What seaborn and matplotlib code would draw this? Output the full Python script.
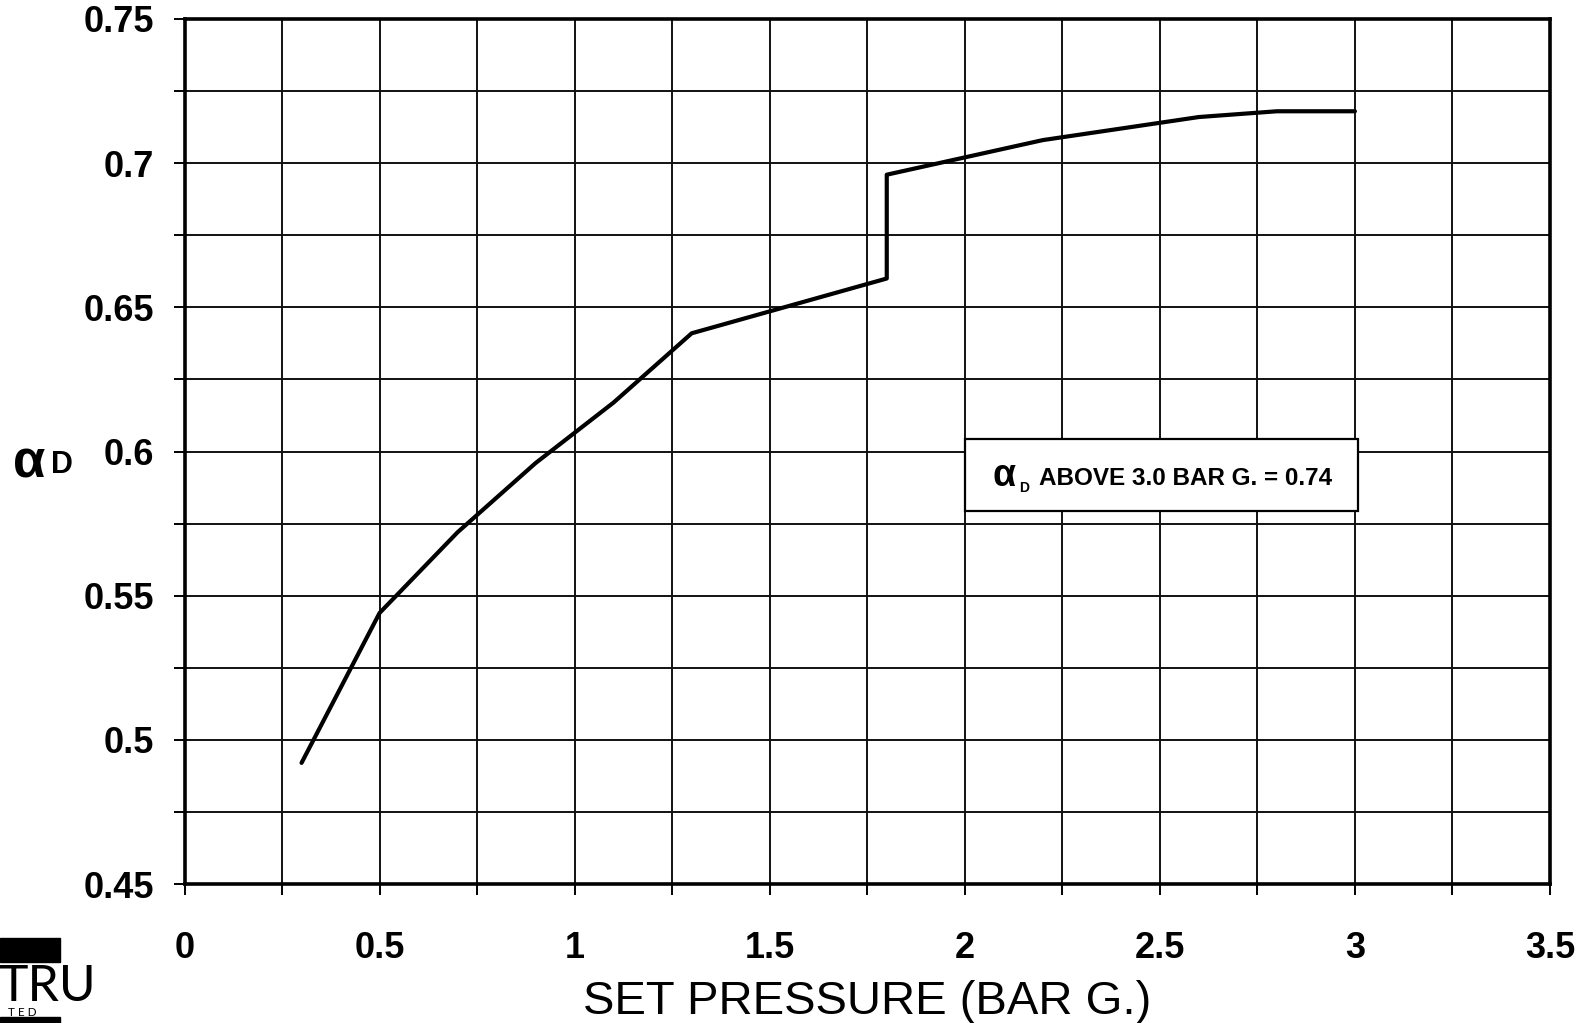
import matplotlib
import matplotlib.pyplot as plt
import pandas as pd
import seaborn as sns
from matplotlib.patches import Rectangle
from matplotlib.ticker import FuncFormatter, MultipleLocator

matplotlib.use("Agg")

# ---------------------------------------------------------------------------
# Data
# ---------------------------------------------------------------------------
set_pressure = [0.3, 0.5, 0.7, 0.9, 1.1, 1.3, 1.8, 1.8, 2.2, 2.6, 2.8, 3.0]
alpha_d      = [0.492, 0.544, 0.572, 0.596, 0.617, 0.641, 0.660, 0.696,
                0.708, 0.716, 0.718, 0.718]

x_ticks = [0, 0.5, 1, 1.5, 2, 2.5, 3, 3.5]
y_ticks = [0.45, 0.5, 0.55, 0.6, 0.65, 0.7, 0.75]

x_label   = "SET PRESSURE (BAR G.)"
note_text = "ABOVE 3.0 BAR G. = 0.74"

df = pd.DataFrame({"pressure": set_pressure, "alpha": alpha_d})

# ---------------------------------------------------------------------------
# Figure
# ---------------------------------------------------------------------------
sns.set_theme(style="white")
plt.rcParams["font.family"] = ["Liberation Sans", "DejaVu Sans"]
plt.rcParams.update({
    "text.color": "black",
    "axes.labelcolor": "black",
    "xtick.color": "black",
    "ytick.color": "black",
})

W, H = 1581, 1023
fig = plt.figure(figsize=(W / 100, H / 100), dpi=100)
ax = fig.add_axes([184.5 / W, 1 - 884 / H, 1365.5 / W, 865 / H])

sns.lineplot(data=df, x="pressure", y="alpha", ax=ax, estimator=None,
             sort=False, color="black", linewidth=3.0, zorder=3)

ax.set_xlim(x_ticks[0], x_ticks[-1])
ax.set_ylim(y_ticks[0], y_ticks[-1])
ax.set_xticks(x_ticks)
ax.set_yticks(y_ticks)
ax.xaxis.set_minor_locator(MultipleLocator(0.25))
ax.yaxis.set_minor_locator(MultipleLocator(0.025))
fmt = FuncFormatter(lambda v, _: f"{v:g}")
ax.xaxis.set_major_formatter(fmt)
ax.yaxis.set_major_formatter(fmt)

ax.grid(True, which="both", color="#111111", linewidth=1.4, zorder=1)
ax.set_axisbelow(True)

for s in ax.spines.values():
    s.set_visible(True)
    s.set_color("black")
    s.set_linewidth(2.6)

ax.tick_params(axis="both", which="both", direction="out", color="black",
               labelcolor="black", width=1.4,
               bottom=True, left=True, top=False, right=False)
ax.tick_params(axis="x", which="both", length=8, pad=26)
ax.tick_params(axis="y", which="both", length=8, pad=14)
for lab in ax.get_xticklabels() + ax.get_yticklabels():
    lab.set_fontsize(26)
    lab.set_fontweight("bold")

ax.set_xlabel(x_label, fontsize=34, labelpad=10, color="black")
ax.set_ylabel("")

# y-axis label: alpha with subscript D
fig.text(13 / W, 1 - 478 / H, "α", fontsize=38, fontweight="bold",
         color="black", ha="left", va="baseline")
fig.text(51 / W, 1 - 473 / H, "D", fontsize=22, fontweight="bold",
         color="black", ha="left", va="baseline")

# annotation box
box = Rectangle((2.0, 0.5794), 1.008, 0.0251, facecolor="white",
                edgecolor="black", linewidth=1.6, zorder=4)
ax.add_patch(box)
ax.text(2.072, 0.5882, "α", fontsize=27, fontweight="bold",
        color="black", ha="left", va="baseline", zorder=5)
ax.text(2.140, 0.5860, "D", fontsize=10, fontweight="bold",
        color="black", ha="left", va="baseline", zorder=5)
ax.text(2.190, 0.5884, note_text, fontsize=17.5, fontweight="bold",
        color="black", ha="left", va="baseline", zorder=5)

# cropped logo in the lower left corner
fig.patches.append(Rectangle((0, 1 - 962 / H), 60 / W, 24 / H,
                             transform=fig.transFigure, color="black"))
fig.patches.append(Rectangle((0, 0), 60 / W, 6 / H,
                             transform=fig.transFigure, color="black"))
fig.text(-2 / W, 1 - 1001 / H, "TRU", fontsize=36, color="black",
         family=["Lato", "DejaVu Sans"], ha="left", va="baseline")
fig.text(8 / W, 1 - 1016 / H, "T E D", fontsize=8.5, color="black",
         family=["Lato", "DejaVu Sans"], ha="left", va="baseline")

fig.savefig("out.png", dpi=100)
